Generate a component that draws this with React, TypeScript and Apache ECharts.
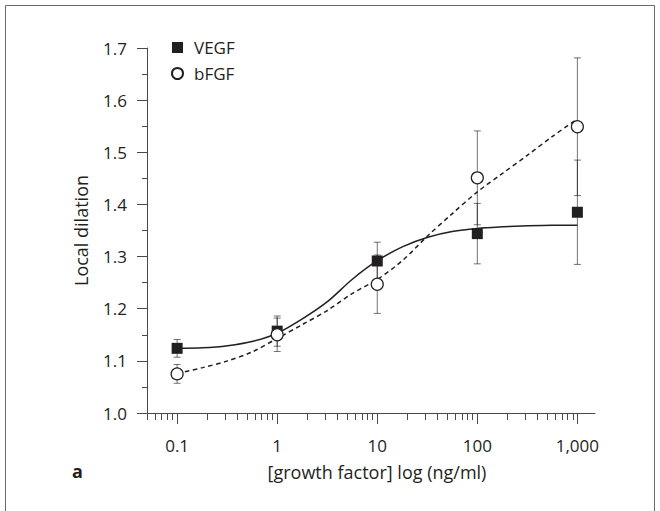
import React, { useEffect, useRef } from "react";
import * as echarts from "echarts";

// Concentrations (ng/ml) and tick labels
const concentrations = [0.1, 1, 10, 100, 1000];
const xTickValues = [0.1, 1, 10, 100, 1000];
const xTickLabels = ["0.1", "1", "10", "100", "1,000"];
const xMinorTicks = [
  0.05, 0.06, 0.07, 0.08, 0.09,
  0.2, 0.3, 0.4, 0.5, 0.6, 0.7, 0.8, 0.9,
  2, 3, 4, 5, 6, 7, 8, 9,
  20, 30, 40, 50, 60, 70, 80, 90,
  200, 300, 400, 500, 600, 700, 800, 900,
];

// Measured means and error half-widths
const vegfMean = [1.124, 1.157, 1.2915, 1.344, 1.385];
const vegfErr = [0.017, 0.029, 0.036, 0.058, 0.1];
const bfgfMean = [1.075, 1.15, 1.247, 1.451, 1.549];
const bfgfErr = [0.018, 0.032, 0.056, 0.09, 0.132];

// Fitted curves (quarter-decade steps)
const fitX = [0.1, 0.18, 0.32, 0.56, 1, 1.8, 3.2, 5.6, 10, 18, 32, 56, 100, 180, 320, 560, 1000];
const vegfFitY = [1.124, 1.125, 1.129, 1.137, 1.153, 1.181, 1.214, 1.256, 1.292, 1.319, 1.337, 1.348, 1.354, 1.357, 1.359, 1.36, 1.36];
const bfgfFitY = [1.076, 1.087, 1.1, 1.117, 1.143, 1.17, 1.197, 1.229, 1.256, 1.293, 1.34, 1.382, 1.424, 1.46, 1.495, 1.53, 1.564];

const X_MIN = 0.05;
const X_MAX = 1500;
const FONT = "'Open Sans', 'Noto Sans', sans-serif";
const INK = "#231f20";
const AXIS = "#4a4a4a";

export default function App() {
  const ref = useRef<HTMLDivElement>(null);

  useEffect(() => {
    if (!ref.current) return;
    const chart = echarts.init(ref.current, undefined, { renderer: "svg" });

    const majorLog = xTickValues.map((v) => Math.log10(v));
    const minorLog = xMinorTicks.map((v) => Math.log10(v));

    const errData = (means: number[], errs: number[]) =>
      concentrations.map((x, i) => [x, means[i] - errs[i], means[i] + errs[i]]);

    const renderErr = (params: any, api: any) => {
      const x = api.value(0);
      const lo = api.coord([x, api.value(1)]);
      const hi = api.coord([x, api.value(2)]);
      const cap = 3.5;
      const style = { stroke: "rgba(0,0,0,0.55)", lineWidth: 1, fill: "none" };
      return {
        type: "group",
        children: [
          { type: "line", shape: { x1: lo[0], y1: lo[1], x2: hi[0], y2: hi[1] }, style },
          { type: "line", shape: { x1: hi[0] - cap, y1: hi[1], x2: hi[0] + cap, y2: hi[1] }, style },
          { type: "line", shape: { x1: lo[0] - cap, y1: lo[1], x2: lo[0] + cap, y2: lo[1] }, style },
        ],
      };
    };

    const option: any = {
      animation: false,
      backgroundColor: "#ffffff",
      textStyle: { fontFamily: FONT, color: INK },
      grid: { left: 147, right: 65, top: 48, bottom: 98, containLabel: false },
      legend: {
        orient: "vertical",
        left: 171,
        top: 39,
        padding: 0,
        itemWidth: 11,
        itemHeight: 11,
        itemGap: 9,
        data: ["VEGF", "bFGF"],
        textStyle: { fontFamily: FONT, fontSize: 17, color: INK, padding: [0, 0, 0, 6] },
        selectedMode: false,
      },
      xAxis: [
        {
          type: "log",
          logBase: 10,
          min: X_MIN,
          max: X_MAX,
          position: "bottom",
          axisLine: { show: true, onZero: false, lineStyle: { color: AXIS, width: 1 } },
          axisTick: { show: false },
          axisLabel: { show: false },
          splitLine: { show: false },
          minorTick: { show: false },
        },
        {
          type: "value",
          min: Math.log10(X_MIN),
          max: Math.log10(X_MAX),
          position: "bottom",
          axisLine: { show: false, onZero: false },
          axisTick: {
            show: true,
            length: 11,
            customValues: majorLog,
            lineStyle: { color: AXIS, width: 1 },
          },
          axisLabel: {
            show: true,
            customValues: majorLog,
            margin: 24,
            fontSize: 17,
            fontFamily: FONT,
            color: INK,
            formatter: (v: number) => {
              const i = majorLog.findIndex((m) => Math.abs(m - v) < 1e-6);
              return i >= 0 ? xTickLabels[i] : "";
            },
          },
          splitLine: { show: false },
          name: "[growth factor] log (ng/ml)",
          nameLocation: "middle",
          nameGap: 50,
          nameTextStyle: { fontSize: 18, fontFamily: FONT, color: INK, padding: [0, 0, 0, 12] },
        },
        {
          type: "value",
          min: Math.log10(X_MIN),
          max: Math.log10(X_MAX),
          position: "bottom",
          axisLine: { show: false, onZero: false },
          axisTick: {
            show: true,
            length: 7,
            customValues: minorLog,
            lineStyle: { color: AXIS, width: 1 },
          },
          axisLabel: { show: false },
          splitLine: { show: false },
        },
      ],
      yAxis: {
        type: "value",
        min: 1.0,
        max: 1.7,
        interval: 0.1,
        axisLine: { show: true, onZero: false, lineStyle: { color: AXIS, width: 1 } },
        axisTick: { show: true, length: 10, lineStyle: { color: AXIS, width: 1 } },
        minorTick: { show: true, splitNumber: 2, length: 5, lineStyle: { color: AXIS, width: 1 } },
        axisLabel: {
          margin: 20,
          fontSize: 17,
          fontFamily: FONT,
          color: INK,
          formatter: (v: number) => v.toFixed(1),
        },
        splitLine: { show: false },
        name: "Local dilation",
        nameLocation: "middle",
        nameGap: 57,
        nameTextStyle: { fontSize: 18, fontFamily: FONT, color: INK },
      },
      graphic: [
        {
          type: "rect",
          shape: { x: 5.5, y: 5.5, width: 649, height: 530 },
          style: { fill: "none", stroke: "#6a6a6a", lineWidth: 1 },
          silent: true,
        },
        {
          type: "text",
          left: 72,
          top: 462,
          style: { text: "a", fontSize: 18, fontWeight: "bold", fontFamily: FONT, fill: INK },
        },
      ],
      series: [
        {
          name: "VEGF error",
          type: "custom",
          xAxisIndex: 0,
          yAxisIndex: 0,
          renderItem: renderErr,
          data: errData(vegfMean, vegfErr),
          z: 1,
          silent: true,
        },
        {
          name: "bFGF error",
          type: "custom",
          xAxisIndex: 0,
          yAxisIndex: 0,
          renderItem: renderErr,
          data: errData(bfgfMean, bfgfErr),
          z: 1,
          silent: true,
        },
        {
          name: "VEGF fit",
          type: "line",
          xAxisIndex: 0,
          data: fitX.map((x, i) => [x, vegfFitY[i]]),
          showSymbol: false,
          smooth: 0.3,
          lineStyle: { color: INK, width: 1.5, type: "solid" },
          z: 2,
          silent: true,
        },
        {
          name: "bFGF fit",
          type: "line",
          xAxisIndex: 0,
          data: fitX.map((x, i) => [x, bfgfFitY[i]]),
          showSymbol: false,
          smooth: 0.3,
          lineStyle: { color: INK, width: 1.5, type: [4.5, 3.5] },
          z: 2,
          silent: true,
        },
        {
          name: "VEGF",
          type: "scatter",
          xAxisIndex: 0,
          symbol: "rect",
          symbolSize: 11,
          itemStyle: { color: INK, opacity: 1 },
          data: concentrations.map((x, i) => [x, vegfMean[i]]),
          z: 3,
        },
        {
          name: "bFGF",
          type: "scatter",
          xAxisIndex: 0,
          symbol: "circle",
          symbolSize: 12,
          itemStyle: { color: "#ffffff", borderColor: INK, borderWidth: 1.2, opacity: 1 },
          data: concentrations.map((x, i) => [x, bfgfMean[i]]),
          z: 3,
        },
      ],
    };

    chart.setOption(option);
    return () => chart.dispose();
  }, []);

  return (
    <div
      ref={ref}
      style={{ position: "fixed", left: 0, top: 0, width: 660, height: 511, background: "#fff" }}
    />
  );
}
